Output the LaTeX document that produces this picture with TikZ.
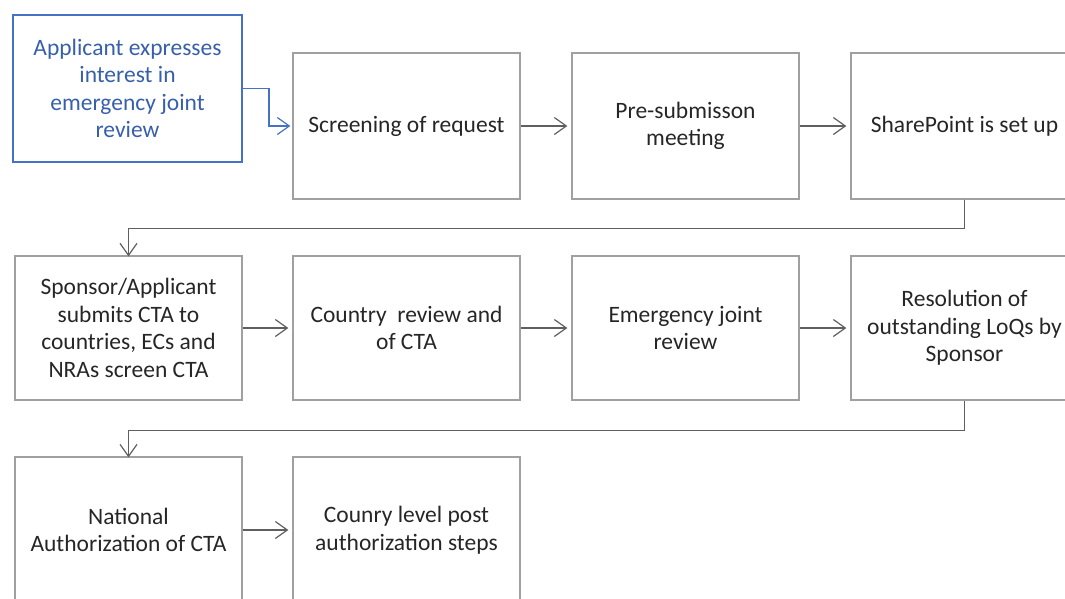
\documentclass[tikz,border=0pt]{standalone}
\usepackage{fontspec}
\setmainfont{Carlito}
\usetikzlibrary{arrows.meta}
\definecolor{stepblue}{RGB}{68,114,196}
\definecolor{steptext}{RGB}{55,95,170}
\definecolor{boxgray}{RGB}{160,160,160}
\definecolor{flowgray}{RGB}{95,95,95}
\tikzset{
stepbox/.style={
	draw=boxgray, line width=1.3pt, minimum width=227pt, minimum height=146pt,
	align=center, inner sep=0pt, text=black!85, font=\fontsize{23.5}{27.5}\selectfont},
startbox/.style={stepbox, draw=stepblue, text=steptext, line width=1.8pt,
	minimum width=229pt, minimum height=147pt},
flow/.style={draw=flowgray, line width=1.3pt,
	-{Straight Barb[length=12pt, width=17pt, line width=1.2pt]}},
startflow/.style={flow, draw=stepblue}
}

\begin{document}
\begin{tikzpicture}[x=1pt, y=-1pt]
	\clip (0,0) rectangle (1065,598);
	\node[startbox] (apply) at (127.5,88.5) {Applicant expresses\\interest in\\emergency joint\\review};
	\node[stepbox] (screen) at (406.5,126) {Screening of request};
	\node[stepbox] (presub) at (685.5,126) {Pre-submisson\\meeting};
	\node[stepbox] (sharept) at (964.5,126) {SharePoint is set up};

	\node[stepbox, minimum height=144pt] (submit) at (128.5,328) {Sponsor/Applicant\\submits CTA to\\countries, ECs and\\NRAs screen CTA};
	\node[stepbox, minimum height=144pt] (country) at (406.5,328) {Country\ \ review and\\of CTA};
	\node[stepbox, minimum height=144pt] (joint) at (685.5,328) {Emergency joint\\review};
	\node[stepbox, minimum height=144pt] (loq) at (964.5,328) {Resolution of\\outstanding LoQs by\\Sponsor};

	\node[stepbox] (natauth) at (128.5,530) {National\\Authorization of CTA};
	\node[stepbox] (post) at (406.5,530) {Counry level post\\authorization steps};

	\draw[startflow] (apply.east) -- ++(26,0) |- ([xshift=-2pt]screen.west);
	\draw[flow] (screen.east) -- ([xshift=-4pt]presub.west);
	\draw[flow] (presub.east) -- ([xshift=-4pt]sharept.west);
	\draw[flow] (sharept.south) -- ++(0,29) -| ([yshift=-1pt]submit.north);
	\draw[flow] (submit.east) -- ([xshift=-4pt]country.west);
	\draw[flow] (country.east) -- ([xshift=-4pt]joint.west);
	\draw[flow] (joint.east) -- ([xshift=-4pt]loq.west);
	\draw[flow] (loq.south) -- ++(0,30) -| ([yshift=-1pt]natauth.north);
	\draw[flow] (natauth.east) -- ([xshift=-4pt]post.west);
\end{tikzpicture}
\end{document}
